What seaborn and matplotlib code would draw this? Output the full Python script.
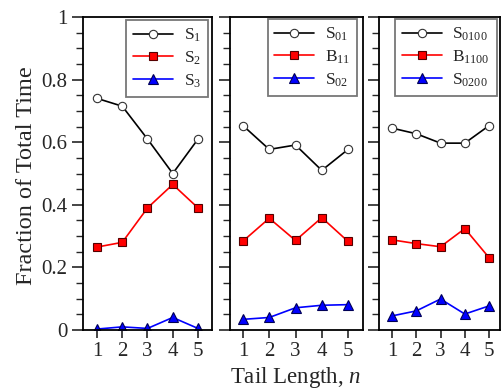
import numpy as np
import pandas as pd
import matplotlib
matplotlib.use("Agg")
import matplotlib.pyplot as plt
import seaborn as sns
from matplotlib.ticker import MultipleLocator

n = [1, 2, 3, 4, 5]

# Panel 1
s1 = [0.740, 0.715, 0.610, 0.500, 0.610]
s2 = [0.265, 0.280, 0.390, 0.465, 0.390]
s3 = [0.003, 0.010, 0.005, 0.040, 0.005]
# Panel 2
s01 = [0.653, 0.577, 0.591, 0.510, 0.577]
b11 = [0.284, 0.357, 0.286, 0.359, 0.283]
s02 = [0.034, 0.040, 0.071, 0.079, 0.081]
# Panel 3
s0100 = [0.645, 0.627, 0.597, 0.597, 0.653]
b1100 = [0.288, 0.276, 0.266, 0.324, 0.231]
s0200 = [0.045, 0.061, 0.099, 0.051, 0.077]

yticks = [0, 0.2, 0.4, 0.6, 0.8, 1.0]
ytick_labels = ["0", "0.2", "0.4", "0.6", "0.8", "1"]

labels1 = [r"S$_{\mathrm{1}}$", r"S$_{\mathrm{2}}$", r"S$_{\mathrm{3}}$"]
labels2 = [r"S$_{\mathrm{01}}$", r"B$_{\mathrm{11}}$", r"S$_{\mathrm{02}}$"]
labels3 = [r"S$_{\mathrm{0100}}$", r"B$_{\mathrm{1100}}$", r"S$_{\mathrm{0200}}$"]

sns.set_style("ticks")
plt.rcParams["font.family"] = ["Liberation Serif", "DejaVu Serif"]
plt.rcParams["mathtext.fontset"] = "custom"
plt.rcParams["mathtext.rm"] = "Liberation Serif"
plt.rcParams["mathtext.it"] = "Liberation Serif:italic"

fig = plt.figure(figsize=(5.02, 3.91), dpi=100)
W, H = 502, 391

def add_ax(l, r, t=17, b=330):
    return fig.add_axes([l / W, (H - b) / H, (r - l) / W, (b - t) / H])

panels = [
    (add_ax(83, 212), (s1, s2, s3), labels1, (0.446, 5.554), (125, 208, 20, 99)),
    (add_ax(230, 363), (s01, b11, s02), labels2, (0.505, 5.57), (266, 357, 19, 92)),
    (add_ax(379, 500), (s0100, b1100, s0200), labels3, (0.464, 5.45), (394, 497, 19, 91)),
]

styles = [
    dict(color="black", marker="o", markerfacecolor="white", markeredgecolor="#333333", markersize=6),
    dict(color="red", marker="s", markerfacecolor="red", markeredgecolor="#550000", markersize=5.5),
    dict(color="blue", marker="^", markerfacecolor="blue", markeredgecolor="#000055", markersize=7),
]

for i, (ax, series, labs, xl, leg) in enumerate(panels):
    for vals, lab, st in zip(series, labs, styles):
        sns.lineplot(x=n, y=vals, ax=ax, label=lab, linewidth=1.2,
                     markeredgewidth=0.8, **st)
    ax.set_xlim(*xl)
    ax.set_ylim(0, 1)
    ax.set_xticks(n)
    ax.set_yticks(yticks)
    ax.yaxis.set_minor_locator(MultipleLocator(0.05))
    ax.tick_params(axis="y", which="major", direction="out", length=8, width=1.2, labelsize=15, pad=3)
    ax.tick_params(axis="y", which="minor", direction="out", length=5, width=1.0)
    ax.tick_params(axis="x", which="major", direction="out", length=6, width=1.2, labelsize=15, pad=3)
    ax.set_yticklabels(ytick_labels if i == 0 else [""] * len(yticks))
    for sp in ax.spines.values():
        sp.set_linewidth(1.3)
        sp.set_color("black")
    ax.set_xlabel("")
    ax.set_ylabel("")
    lx0, lx1, ly0, ly1 = leg
    lg = ax.legend(loc="upper right",
                   bbox_to_anchor=(lx1 / W, (H - ly0) / H),
                   bbox_transform=fig.transFigure,
                   frameon=True, fancybox=False, framealpha=1, edgecolor="#777777",
                   fontsize=12.5, handlelength=2.3, handletextpad=0.6,
                   borderaxespad=0, borderpad=0.4, labelspacing=0.3)
    lg.get_frame().set_linewidth(1.3)

fig.text(27 / W, (H - 176) / H, "Fraction of Total Time", rotation=90,
         ha="center", va="center", fontsize=17.5)
fig.text(296 / W, 1 / H, r"Tail Length, $\mathit{n}$", ha="center", va="bottom", fontsize=16.5)

fig.savefig("out.png", dpi=100)
